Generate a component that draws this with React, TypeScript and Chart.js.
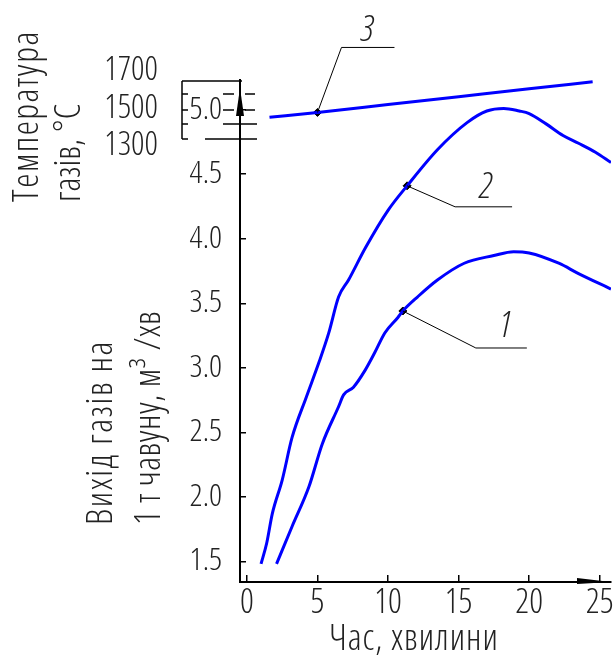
import React, { useEffect, useRef } from 'react';
import { Chart, registerables } from 'chart.js';

Chart.register(...registerables);

// ---- data ----
const xTicks = [0, 5, 10, 15, 20, 25];
const yTicks = [1.5, 2.0, 2.5, 3.0, 3.5, 4.0, 4.5, 5.0];
const tempTicks = [1300, 1500, 1700];

// curve 1 (lower output curve)
const curve1X = [2.1, 3.2, 4.4, 5.34, 6.5, 6.85, 7.55, 8.37, 9.07, 9.77, 10.7, 11.05, 12.1, 13.5, 15.4, 17.5, 18.9, 20.0, 22.1, 23.5, 25.8];
const curve1Y = [1.48, 1.77, 2.08, 2.41, 2.70, 2.79, 2.85, 2.98, 3.12, 3.27, 3.39, 3.44, 3.55, 3.68, 3.81, 3.87, 3.90, 3.89, 3.81, 3.73, 3.61];

// curve 2 (upper output curve)
const curve2X = [1.0, 1.4, 1.8, 2.5, 3.2, 4.2, 5.1, 5.8, 6.5, 7.2, 8.4, 10.0, 11.35, 13.5, 15.6, 17.0, 18.2, 19.3, 20.0, 21.2, 22.4, 23.5, 24.7, 25.8];
const curve2Y = [1.48, 1.64, 1.87, 2.13, 2.46, 2.77, 3.04, 3.27, 3.55, 3.68, 3.93, 4.22, 4.41, 4.69, 4.90, 4.99, 5.01, 4.99, 4.97, 4.89, 4.80, 4.74, 4.67, 4.59];

// curve 3 (gas temperature, °C)
const tempX = [1.6, 5.0, 10, 15, 20, 24.5];
const tempY = [1452, 1478, 1520, 1562, 1604, 1642];

// labelled points on the curves
const marker1 = { x: 11.05, y: 3.44 };
const marker2 = { x: 11.35, y: 4.41 };
const marker3 = { x: 5.0, y: 1478 };
const curveNames = ['1', '2', '3'];

const xTitle = 'Час, хвилини';
const yTitle = ['Вихід газів на', '1 т чавуну, м³ /хв'];
const tTitle = ['Температура', 'газів, °С'];

const FAMILY = "'Open Sans', 'Roboto', sans-serif";
const W = '300 condensed';
const TEXT = '#222';
const BLUE = '#0000ff';

const zip = (xs: number[], ys: number[]) => xs.map((x, i) => ({ x, y: ys[i] }));

const decor = {
  id: 'decor',
  afterDraw(chart: any) {
    const ctx = chart.ctx as CanvasRenderingContext2D;
    const a = chart.chartArea;
    const xs = chart.scales.x;
    const ys = chart.scales.y;
    const ts = chart.scales.yT;
    ctx.save();
    ctx.fillStyle = '#000';
    ctx.strokeStyle = '#000';

    // axis arrows
    ctx.beginPath();
    ctx.moveTo(a.left, a.top + 8);
    ctx.lineTo(a.left + 4, a.top + 36);
    ctx.lineTo(a.left - 4, a.top + 36);
    ctx.closePath();
    ctx.fill();
    ctx.beginPath();
    ctx.moveTo(a.right, a.bottom);
    ctx.lineTo(a.right - 34, a.bottom - 4);
    ctx.lineTo(a.right - 34, a.bottom + 2);
    ctx.closePath();
    ctx.fill();

    // small temperature scale bracket
    ctx.lineWidth = 1.5;
    const L = a.left;
    const T = a.top;
    const seg = (x1: number, y1: number, x2: number, y2: number) => {
      ctx.beginPath();
      ctx.moveTo(x1, y1);
      ctx.lineTo(x2, y2);
      ctx.stroke();
    };
    seg(L - 58, T + 1, L - 58, T + 59);
    seg(L - 58, T + 1, L + 2, T + 1);
    [14, 30, 44, 59].forEach((d) => seg(L - 58, T + d, L - 52, T + d));
    [14, 30].forEach((d) => {
      seg(L - 17, T + d, L - 6, T + d);
      seg(L + 5, T + d, L + 15, T + d);
    });
    seg(L - 17, T + 44, L + 17, T + 44);
    seg(L - 35, T + 59, L + 17, T + 59);

    // temperature tick labels
    ctx.fillStyle = TEXT;
    ctx.font = `${W} 33px ${FAMILY}`;
    ctx.textAlign = 'right';
    ctx.textBaseline = 'middle';
    tempTicks.forEach((t) => ctx.fillText(String(t), 158, ts.getPixelForValue(t)));

    // titles
    const c = ctx as any;
    ctx.font = `${W} 36px ${FAMILY}`;
    ctx.textAlign = 'center';
    ctx.textBaseline = 'alphabetic';
    c.letterSpacing = '1px';
    ctx.fillText(xTitle, 414, 650);
    const rot = (text: string, x: number, y: number, sp: string) => {
      ctx.save();
      c.letterSpacing = sp;
      ctx.translate(x, y);
      ctx.rotate(-Math.PI / 2);
      ctx.textAlign = 'left';
      ctx.fillText(text, 0, 0);
      ctx.restore();
    };
    rot(yTitle[0], 112, 525, '1.6px');
    rot(yTitle[1], 160, 525, '0.4px');
    rot(tTitle[0], 38, 202, '1.5px');
    rot(tTitle[1], 80, 202, '0px');
    c.letterSpacing = '0px';

    // leaders with curve numbers
    const leaders = [
      { p: [xs.getPixelForValue(marker1.x), ys.getPixelForValue(marker1.y)], k: [73, 37], e: 124, t: [103, 26] },
      { p: [xs.getPixelForValue(marker2.x), ys.getPixelForValue(marker2.y)], k: [48, 21], e: 105, t: [79, 12] },
      { p: [xs.getPixelForValue(marker3.x), ts.getPixelForValue(marker3.y)], k: [24, -65], e: 77, t: [50, -71] },
    ];
    ctx.strokeStyle = '#000';
    ctx.lineWidth = 1;
    ctx.font = `italic ${W} 36px ${FAMILY}`;
    ctx.textAlign = 'center';
    leaders.forEach((l, i) => {
      const [px, py] = l.p;
      ctx.beginPath();
      ctx.moveTo(px, py);
      ctx.lineTo(px + l.k[0], py + l.k[1]);
      ctx.lineTo(px + l.e, py + l.k[1]);
      ctx.stroke();
      ctx.fillText(curveNames[i], px + l.t[0], py + l.t[1]);
    });
    ctx.restore();
  },
};

export default function App() {
  const ref = useRef<HTMLCanvasElement>(null);
  useEffect(() => {
    if (!ref.current) return;
    const lineDs = (data: any[], yAxisID: string) => ({
      type: 'line' as const,
      data,
      yAxisID,
      borderColor: BLUE,
      borderWidth: 3,
      pointRadius: 0,
      fill: false,
      cubicInterpolationMode: 'monotone' as const,
    });
    const markDs = (pt: any, yAxisID: string) => ({
      type: 'scatter' as const,
      data: [pt],
      yAxisID,
      pointStyle: 'rectRot' as const,
      pointRadius: 4,
      backgroundColor: '#000',
      borderColor: '#000',
      borderWidth: 1,
    });
    const chart = new Chart(ref.current, {
      type: 'line',
      data: {
        datasets: [
          lineDs(zip(curve1X, curve1Y), 'y'),
          lineDs(zip(curve2X, curve2Y), 'y'),
          lineDs(zip(tempX, tempY), 'yT'),
          markDs(marker1, 'y'),
          markDs(marker2, 'y'),
          markDs(marker3, 'yT'),
        ] as any,
      },
      options: {
        animation: false,
        responsive: false,
        layout: { padding: { top: 80, left: 0, right: 0, bottom: 0 } },
        plugins: { legend: { display: false }, tooltip: { enabled: false } },
        scales: {
          x: {
            type: 'linear',
            position: 'bottom',
            min: -0.49,
            max: 25.8,
            grid: { drawOnChartArea: false, tickLength: -7, color: '#000', lineWidth: 1.5 },
            border: { display: true, color: '#000', width: 2 },
            ticks: {
              padding: 8,
              color: TEXT,
              font: { family: FAMILY, size: 34, weight: W },
              maxRotation: 0,
              autoSkip: false,
              callback: (v: any) => String(v),
            },
            afterBuildTicks: (s: any) => {
              s.ticks = xTicks.map((value) => ({ value }));
            },
            afterFit: (s: any) => {
              s.height = 73;
              s.paddingLeft = 0;
              s.paddingRight = 0;
            },
          },
          y: {
            type: 'linear',
            position: 'left',
            min: 1.34,
            max: 5.23,
            grid: { drawOnChartArea: false, tickLength: -6, color: '#000', lineWidth: 1.5 },
            border: { display: true, color: '#000', width: 2 },
            ticks: {
              padding: 24,
              color: TEXT,
              font: { family: FAMILY, size: 32, weight: W },
              autoSkip: false,
              callback: (v: any) => Number(v).toFixed(1),
            },
            afterBuildTicks: (s: any) => {
              s.ticks = yTicks.map((value) => ({ value }));
            },
            afterFit: (s: any) => {
              s.width = 240;
              s.paddingTop = 0;
              s.paddingBottom = 0;
            },
          },
          yT: {
            type: 'linear',
            position: 'left',
            display: false,
            min: -1026,
            max: 1651,
          },
        },
      } as any,
      plugins: [decor],
    });
    return () => chart.destroy();
  }, []);
  return (
    <div style={{ position: 'fixed', left: 0, top: 0, width: 616, height: 655, background: '#fff' }}>
      <canvas ref={ref} width={616} height={655} style={{ display: 'block' }} />
    </div>
  );
}
